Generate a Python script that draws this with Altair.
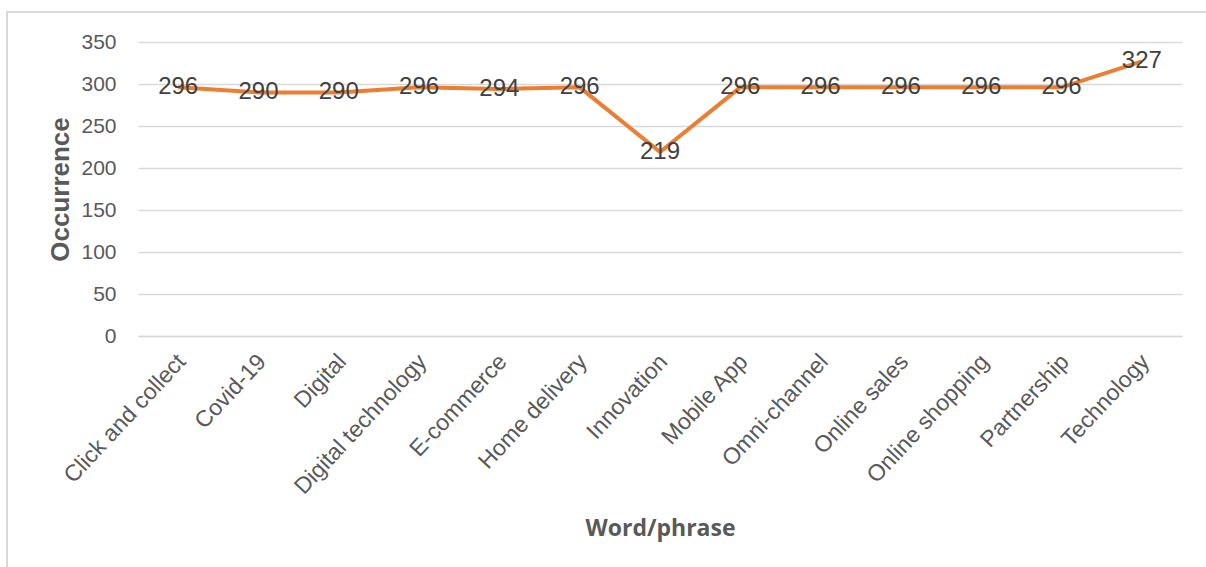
import altair as alt
import pandas as pd

categories = ["Click and collect", "Covid-19", "Digital", "Digital technology", "E-commerce",
              "Home delivery", "Innovation", "Mobile App", "Omni-channel", "Online sales",
              "Online shopping", "Partnership", "Technology"]
occurrence = [296, 290, 290, 296, 294, 296, 219, 296, 296, 296, 296, 296, 327]

df = pd.DataFrame({"word": categories, "count": occurrence})

W, H = 1044, 294
xenc = alt.X("word:N", sort=categories, scale=alt.Scale(paddingInner=0, paddingOuter=0),
             axis=alt.Axis(title="Word/phrase", labelAngle=-47, labelAlign="right", labelBaseline="top",
                           labelFont="Liberation Sans", labelFontSize=23, labelColor="#595959",
                           labelPadding=14, labelOffset=-5, labelLimit=400, ticks=False, domain=True,
                           domainColor="#d9d9d9", domainWidth=1.5,
                           titleFont="Open Sans", titleFontSize=23, titleFontWeight="bold", titleColor="#595959",
                           titleY=192, titleBaseline="middle", labelOverlap=False))
yenc = alt.Y("count:Q", scale=alt.Scale(domain=[0, 350], nice=False),
             axis=alt.Axis(title="Occurrence", values=list(range(0, 351, 50)), domain=False, ticks=False,
                           labelFont="Liberation Sans", labelFontSize=21, labelColor="#595959", labelPadding=22,
                           gridColor="#d9d9d9", gridWidth=1.5,
                           titleFont="Liberation Sans", titleFontSize=26, titleFontWeight="bold", titleColor="#595959",
                           titleX=-78, titleY=147, titleAngle=-90, titleBaseline="middle", titleAlign="center"))

base = alt.Chart(df).encode(x=xenc, y=yenc)
line = base.mark_line(color="#ED7D31", strokeWidth=4)
labels = base.mark_text(font="Liberation Sans", fontSize=24, color="#404040", align="center", baseline="middle").encode(
    text="count:Q")

border = alt.Chart(df).mark_rect(fill=None, stroke="#d9d9d9", strokeWidth=1.5).encode(
    x=alt.value(-131), x2=alt.value(1075), y=alt.value(-30), y2=alt.value(535))

chart = alt.layer(border, line, labels).properties(
    width=W, height=H,
    padding={"left": 138, "top": 42, "right": 24, "bottom": 231},
    autosize=alt.AutoSizeParams(type="none"),
    background="white",
).configure_view(stroke=None)

chart.save("out.html", embed_options={"renderer": "svg", "actions": False})
